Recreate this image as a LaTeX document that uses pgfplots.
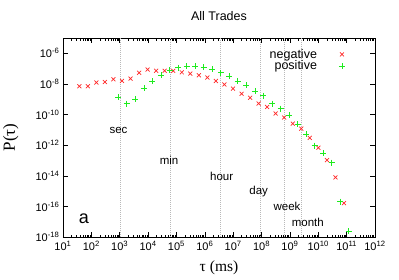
\documentclass[border=0pt]{standalone}
\usepackage{fontspec}
\setmainfont{Liberation Sans}
\newfontfamily\seriffont{Liberation Serif}
\usepackage{pgfplots}
\pgfplotsset{compat=1.18}
\usepackage{pgfplotstable}
\definecolor{negred}{RGB}{255,40,40}
\definecolor{posgreen}{RGB}{30,235,30}

\pgfplotstableread{
x y
37.6 7.03e-9
75.2 7.03e-9
150 1.23e-8
301 1.34e-8
601 2.01e-8
1203 1.56e-8
2405 2.24e-8
4810 5.35e-8
9620 8.65e-8
19240 7.21e-8
38500 7.21e-8
77000 7.21e-8
154000 5.77e-8
308000 4.74e-8
616000 3.67e-8
1.23e6 2.60e-8
2.46e6 1.56e-8
4.92e6 9.23e-9
9.85e6 4.98e-9
1.97e7 2.28e-9
3.94e7 1.25e-9
7.88e7 5.24e-10
1.58e8 3.14e-10
3.15e8 1.17e-10
6.30e8 6.40e-11
1.26e9 2.52e-11
2.52e9 1.19e-11
5.04e9 2.99e-12
1.01e10 6.85e-13
2.02e10 1.05e-13
4.03e10 7.80e-15
8.06e10 1.64e-16
}\negdata

\pgfplotstableread{
x y
891 1.41e-9
1782 5.24e-10
3565 1.04e-9
7129 5.44e-9
14260 1.49e-8
28510 3.67e-8
57020 7.78e-8
1.14e5 1.17e-7
2.28e5 1.42e-7
4.56e5 1.49e-7
9.12e5 1.22e-7
1.82e6 8.77e-8
3.65e6 5.35e-8
7.29e6 3.16e-8
1.46e7 1.56e-8
2.92e7 8.18e-9
5.83e7 3.48e-9
1.17e8 1.69e-9
2.33e8 5.24e-10
4.67e8 2.47e-10
9.33e8 9.04e-11
1.87e9 2.33e-11
3.73e9 5.44e-12
7.46e9 9.25e-13
1.49e10 2.86e-13
2.99e10 7.19e-14
5.97e10 2.06e-16
1.19e11 2.45e-18
}\posdata

\begin{document}
\begin{tikzpicture}[x=1pt,y=1pt]
\begin{axis}[
  at={(0,0)}, anchor=south west,
  scale only axis, width=312pt, height=199pt,
  xmode=log, ymode=log,
  xmin=10, xmax=1e12, ymin=1e-18, ymax=1e-5,
  xtick={1e1,1e2,1e3,1e4,1e5,1e6,1e7,1e8,1e9,1e10,1e11,1e12},
  xticklabels={10\textsuperscript{1},10\textsuperscript{2},10\textsuperscript{3},10\textsuperscript{4},10\textsuperscript{5},10\textsuperscript{6},10\textsuperscript{7},10\textsuperscript{8},10\textsuperscript{9},10\textsuperscript{10},10\textsuperscript{11},10\textsuperscript{12}},
  ytick={1e-18,1e-16,1e-14,1e-12,1e-10,1e-8,1e-6},
  yticklabels={10\textsuperscript{-18},10\textsuperscript{-16},10\textsuperscript{-14},10\textsuperscript{-12},10\textsuperscript{-10},10\textsuperscript{-8},10\textsuperscript{-6}},
  yminorticks=false,
  tick align=inside, major tick length=5pt, minor tick length=2.5pt,
  xtick pos=both, ytick pos=both,
  axis line style={black, line width=0.8pt},
  tick style={black, line width=0.5pt},
  tick label style={font=\fontsize{11}{12}\selectfont},
  xticklabel style={yshift=-1pt},
  title={All Trades},
  title style={at={(axis description cs:0.5,1.08)}, anchor=center, font=\fontsize{12.5}{14}\selectfont},
  xlabel={\seriffont τ (ms)},
  xlabel style={at={(axis description cs:0.5,-0.156)}, anchor=center, font=\fontsize{15.5}{17}\selectfont},
  ylabel={\seriffont P(τ)},
  ylabel style={at={(axis description cs:-0.167,0.5)}, anchor=center, font=\fontsize{17}{19}\selectfont},
  legend plot pos=right,
  legend image code/.code={\path[draw=none,fill=none] (0pt,-0.1pt) rectangle (26pt,0.1pt); \draw[#1] plot[only marks] coordinates {(23pt,0pt)};},
  legend style={draw=none, fill=none, at={(0.914,0.965)}, anchor=north east, cells={anchor=east},
    font=\fontsize{12.5}{14}\selectfont, row sep=-3pt},
]
\addplot[gray!55, line width=0.4pt, dash pattern=on 0.6pt off 1.4pt, forget plot] coordinates {(1e3,1e-18) (1e3,1e-5)};
\addplot[gray!55, line width=0.4pt, dash pattern=on 0.6pt off 1.4pt, forget plot] coordinates {(6e4,1e-18) (6e4,1e-5)};
\addplot[gray!55, line width=0.4pt, dash pattern=on 0.6pt off 1.4pt, forget plot] coordinates {(3.6e6,1e-18) (3.6e6,1e-5)};
\addplot[gray!55, line width=0.4pt, dash pattern=on 0.6pt off 1.4pt, forget plot] coordinates {(8.64e7,1e-18) (8.64e7,1e-5)};
\addplot[gray!55, line width=0.4pt, dash pattern=on 0.6pt off 1.4pt, forget plot] coordinates {(6.048e8,1e-18) (6.048e8,1e-5)};
\addplot[gray!55, line width=0.4pt, dash pattern=on 0.6pt off 1.4pt, forget plot] coordinates {(2.592e9,1e-18) (2.592e9,1e-5)};
\addplot[only marks, mark=x, mark size=2.8pt, color=negred, mark options={line width=0.7pt}] table {\negdata};
\addlegendentry{negative}
\addplot[only marks, mark=+, mark size=3pt, color=posgreen, mark options={line width=0.7pt}] table {\posdata};
\addlegendentry{positive}
\node[font=\fontsize{11.5}{13}\selectfont] at (axis cs:906,8.7e-12) {sec};
\node[font=\fontsize{11.5}{13}\selectfont] at (axis cs:5.47e4,9.5e-14) {min};
\node[font=\fontsize{11.5}{13}\selectfont] at (axis cs:3.94e6,9.8e-15) {hour};
\node[font=\fontsize{11.5}{13}\selectfont] at (axis cs:7.94e7,9.2e-16) {day};
\node[font=\fontsize{11.5}{13}\selectfont] at (axis cs:7.9e8,9.7e-17) {week};
\node[font=\fontsize{11.5}{13}\selectfont] at (axis cs:4.29e9,9.3e-18) {month};
\node[font=\fontsize{18}{20}\selectfont] at (axis cs:55,1.5e-17) {a};
\end{axis}
\pgfresetboundingbox
\path[use as bounding box] (-63pt,-42pt) rectangle (336pt,237pt);
\end{tikzpicture}
\end{document}
